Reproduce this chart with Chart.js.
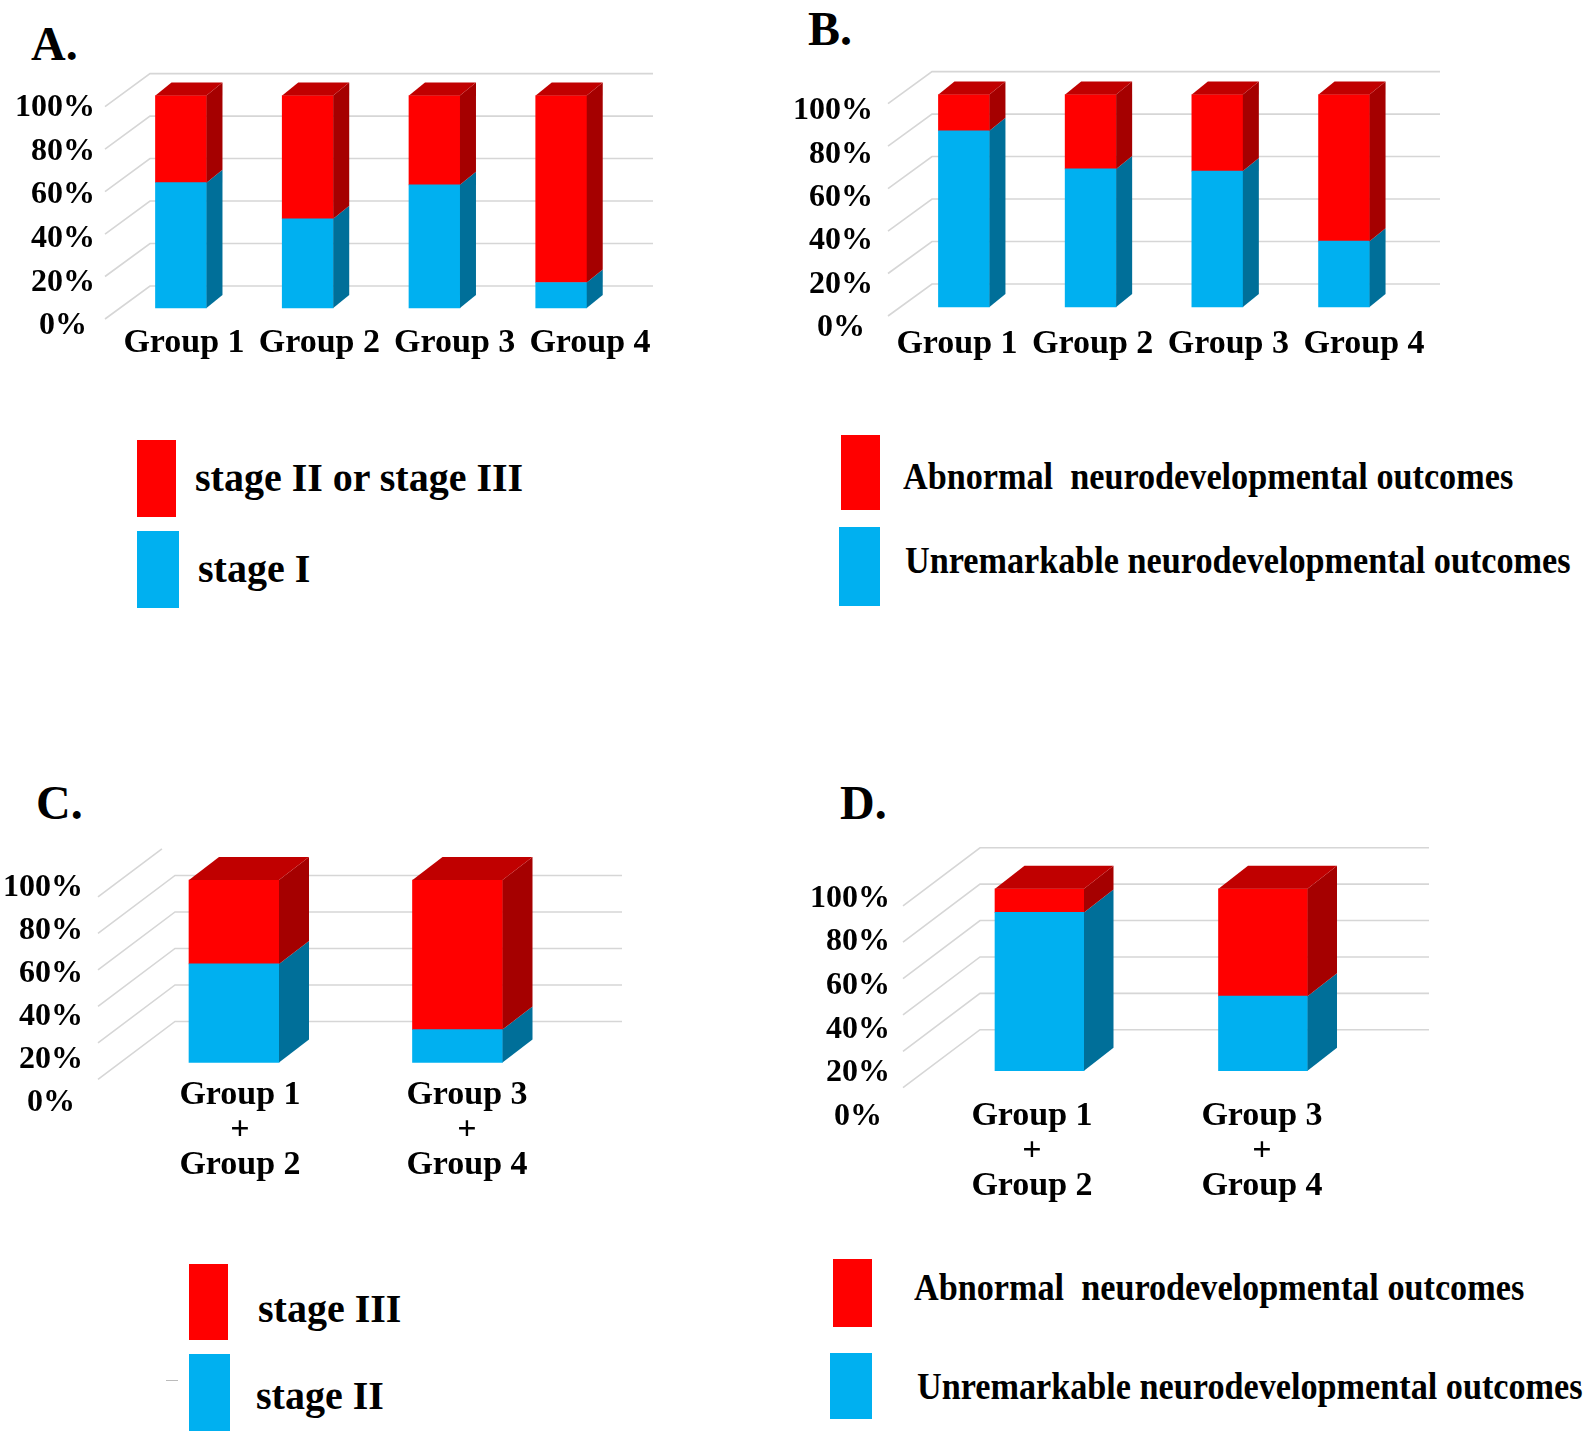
<!DOCTYPE html>
<html>
<head>
<meta charset="utf-8">
<script src="https://cdn.jsdelivr.net/npm/chart.js@4.4.1/dist/chart.umd.min.js"></script>
<style>
	body { margin: 0; background: #fff; width: 1595px; height: 1441px; position: relative; overflow: hidden;
		font-family: 'Liberation Serif', 'Times New Roman', serif; font-weight: bold; color: #000; }
	.abs { position: absolute; }
	.title { font-size: 48px; line-height: 1; }
	.leg { font-size: 40px; line-height: 1; white-space: pre; }
	.legN { font-size: 38px; line-height: 1; white-space: pre; transform: scaleX(0.9); transform-origin: 0 50%; }
	canvas { position: absolute; }
</style>
</head>
<body>

<div class="abs title" style="left:31px; top:20px;">A.</div>
<div class="abs title" style="left:808px; top:5px;">B.</div>
<div class="abs title" style="left:36px; top:779px;">C.</div>
<div class="abs title" style="left:840px; top:779px;">D.</div>

<canvas id="chartA"></canvas>
<canvas id="chartB"></canvas>
<canvas id="chartC"></canvas>
<canvas id="chartD"></canvas>

<!-- legend A -->
<div class="abs" style="left:137px; top:440px; width:39px; height:77px; background:#ff0000;"></div>
<div class="abs" style="left:137px; top:531px; width:42px; height:77px; background:#00b0f0;"></div>
<div class="abs leg" style="left:195px; top:458px;">stage II or stage III</div>
<div class="abs leg" style="left:198px; top:549px;">stage I</div>

<!-- legend B -->
<div class="abs" style="left:841px; top:435px; width:39px; height:75px; background:#ff0000;"></div>
<div class="abs" style="left:839px; top:527px; width:41px; height:79px; background:#00b0f0;"></div>
<div class="abs legN" style="left:903px; top:457px;">Abnormal  neurodevelopmental outcomes</div>
<div class="abs legN" style="left:905px; top:541px;">Unremarkable neurodevelopmental outcomes</div>

<!-- legend C -->
<div class="abs" style="left:189px; top:1264px; width:39px; height:76px; background:#ff0000;"></div>
<div class="abs" style="left:189px; top:1354px; width:41px; height:77px; background:#00b0f0;"></div>
<div class="abs" style="left:166px; top:1380px; width:12px; height:1px; background:#bbb;"></div>
<div class="abs leg" style="left:258px; top:1289px;">stage III</div>
<div class="abs leg" style="left:256px; top:1376px;">stage II</div>

<!-- legend D -->
<div class="abs" style="left:833px; top:1259px; width:39px; height:68px; background:#ff0000;"></div>
<div class="abs" style="left:830px; top:1353px; width:42px; height:66px; background:#00b0f0;"></div>
<div class="abs legN" style="left:914px; top:1268px;">Abnormal  neurodevelopmental outcomes</div>
<div class="abs legN" style="left:917px; top:1367px;">Unremarkable neurodevelopmental outcomes</div>

<script>
	// 데이터 (그림에서 읽은 값, %)
	const groupLabels = ['Group 1', 'Group 2', 'Group 3', 'Group 4'];
	const pooledLabels = [['Group 1', '+', 'Group 2'], ['Group 3', '+', 'Group 4']];
	const tickValues = [0, 20, 40, 60, 80, 100];

	const stageI_A = [59, 42, 58, 12];
	const stageIIorIII_A = [41, 58, 42, 88];

	const unremarkable_B = [83, 65, 64, 31];
	const abnormal_B = [17, 35, 36, 69];

	const stageII_C = [54, 18];
	const stageIII_C = [46, 82];

	const unremarkable_D = [87, 41];
	const abnormal_D = [13, 59];

	// 색상
	const RED = '#ff0000', RED_SIDE = '#a50000', RED_TOP = '#c00000';
	const BLUE = '#00b0f0', BLUE_SIDE = '#006f99', BLUE_TOP = '#0090c8';
	const FONT = "'Liberation Serif', 'Times New Roman', serif";

	// 3D 효과: 벽 격자선 + 막대 옆면/윗면
	const bars3d = {
		id: 'bars3d',
		beforeDatasetsDraw(chart, args, o) {
			const y = chart.scales.y;
			const ctx = chart.ctx;
			const wl = o.wallLeft - o.cx, wr = o.wallRight - o.cx;
			ctx.save();
			ctx.strokeStyle = '#d6d6d6';
			ctx.lineWidth = 1.6;
			tickValues.forEach(v => {
				const yb = y.getPixelForValue(v) + o.backDy;
				const isTop = v === tickValues[tickValues.length - 1];
				ctx.beginPath();
				ctx.moveTo(wl - o.sideDx, yb + o.sideDy);
				if (isTop && o.openTop) {
					ctx.lineTo(wl - o.sideDx * 0.17, yb + o.sideDy * 0.17);
				} else {
					ctx.lineTo(wl, yb);
					ctx.lineTo(wr, yb);
				}
				ctx.stroke();
			});
			ctx.restore();
		},
		afterDatasetsDraw(chart, args, o) {
			const ctx = chart.ctx;
			const sets = chart.data.datasets;
			ctx.save();
			sets.forEach((ds, di) => {
				chart.getDatasetMeta(di).data.forEach(bar => {
					const p = bar.getProps(['x', 'y', 'base', 'width'], true);
					const r = p.x + p.width / 2;
					ctx.fillStyle = ds.sideColor;
					ctx.beginPath();
					ctx.moveTo(r, p.y);
					ctx.lineTo(r + o.dx, p.y - o.dy);
					ctx.lineTo(r + o.dx, p.base - o.dy);
					ctx.lineTo(r, p.base);
					ctx.closePath();
					ctx.fill();
				});
			});
			// 가장 위 구간의 윗면
			chart.data.labels.forEach((lab, i) => {
				let top = -1;
				sets.forEach((ds, di) => { if (ds.data[i] > 0) top = di; });
				if (top < 0) return;
				const p = chart.getDatasetMeta(top).data[i].getProps(['x', 'y', 'width'], true);
				const l = p.x - p.width / 2, r = p.x + p.width / 2;
				ctx.fillStyle = sets[top].topColor;
				ctx.beginPath();
				ctx.moveTo(l, p.y);
				ctx.lineTo(l + o.dx, p.y - o.dy);
				ctx.lineTo(r + o.dx, p.y - o.dy);
				ctx.lineTo(r, p.y);
				ctx.closePath();
				ctx.fill();
			});
			ctx.restore();
		}
	};

	function drawPanel(id, g, labels, lower, upper, lowerName, upperName) {
		const cv = document.getElementById(id);
		cv.width = g.cw;
		cv.height = g.ch;
		cv.style.left = g.cx + 'px';
		cv.style.top = g.cy + 'px';

		const n = labels.length;
		const xLinePx = g.xSize * g.xLH;
		const Ba = g.xl - xLinePx / 2 - 2;   // 차트 영역 아래 = 첫 줄 라벨 바로 위

		// 앞면(막대), 눈금 라벨, 그룹 라벨 각각의 픽셀 위치로 축 범위 계산
		const s1 = (g.p0 - g.p100) / 100;
		const s2 = (g.l0 - g.l100) / 100;
		const s3 = (g.xLast - g.xFirst) / (n - 1);

		new Chart(cv.getContext('2d'), {
			type: 'bar',
			data: {
				labels: labels,
				datasets: [
					{ label: lowerName, data: lower, xAxisID: 'x', yAxisID: 'y', backgroundColor: BLUE, sideColor: BLUE_SIDE, topColor: BLUE_TOP, barThickness: g.barW, borderWidth: 0 },
					{ label: upperName, data: upper, xAxisID: 'x', yAxisID: 'y', backgroundColor: RED, sideColor: RED_SIDE, topColor: RED_TOP, barThickness: g.barW, borderWidth: 0 }
				]
			},
			options: {
				responsive: false,
				animation: false,
				events: [],
				layout: {
					padding: { left: 0, top: g.Ta - g.cy, right: g.cx + g.cw - g.CR, bottom: 0 }
				},
				plugins: {
					legend: { display: false },
					tooltip: { enabled: false },
					bars3d: {
						cx: g.cx, wallLeft: g.wallLeft, wallRight: g.wallRight, backDy: g.backDy,
						sideDx: g.sideDx, sideDy: g.sideDy, openTop: g.openTop, dx: g.dx, dy: g.dy
					}
				},
				scales: {
					x: {
						stacked: true,
						offset: true,
						display: false
					},
					xt: {
						type: 'linear',
						position: 'bottom',
						offset: false,
						bounds: 'data',
						min: -(g.xFirst - g.CL) / s3,
						max: (n - 1) + (g.CR - g.xLast) / s3,
						grid: { display: false, drawTicks: false, offset: false },
						border: { display: false },
						afterBuildTicks: s => { s.ticks = labels.map((l, i) => ({ value: i })); },
						ticks: {
							autoSkip: false, maxRotation: 0, minRotation: 0,
							color: '#000',
							padding: 2,
							font: { family: FONT, size: g.xSize, weight: 'bold', lineHeight: g.xLH },
							callback: v => labels[v]
						},
						afterFit: s => { s.height = g.cy + g.ch - Ba; }
					},
					y: {
						stacked: true,
						display: false,
						bounds: 'data',
						min: -(Ba - g.p0) / s1,
						max: 100 + (g.p100 - g.Ta) / s1
					},
					yt: {
						type: 'linear',
						position: 'left',
						bounds: 'data',
						min: -(Ba - g.l0) / s2,
						max: 100 + (g.l100 - g.Ta) / s2,
						grid: { display: false, drawTicks: false },
						border: { display: false },
						afterBuildTicks: s => { s.ticks = tickValues.map(v => ({ value: v })); },
						ticks: {
							color: '#000',
							padding: g.CL - g.labelRight,
							font: { family: FONT, size: 32, weight: 'bold' },
							callback: v => v === 0 ? v + '% ' : v + '%'
						},
						afterFit: s => { s.width = g.CL - g.cx; }
					}
				}
			},
			plugins: [bars3d]
		});
	}

	// 패널 배치 (페이지 좌표)
	const geomA = { cx: 0, cy: 15, cw: 700, ch: 365, CL: 117.6, CR: 624.6, Ta: 65,
		p0: 308, p100: 95.6, l0: 326, l100: 108, labelRight: 95,
		xl: 343, xSize: 34, xLH: 1.2, xFirst: 184, xLast: 590,
		wallLeft: 150, wallRight: 653, backDy: -22, sideDx: 45, sideDy: 33, openTop: false,
		barW: 51, dx: 16, dy: 13 };
	const geomB = { cx: 780, cy: 15, cw: 700, ch: 365, CL: 900.6, CR: 1407.4, Ta: 65,
		p0: 307, p100: 94.6, l0: 328, l100: 111, labelRight: 873,
		xl: 344, xSize: 34, xLH: 1.2, xFirst: 957, xLast: 1364,
		wallLeft: 932, wallRight: 1440, backDy: -23, sideDx: 44, sideDy: 32, openTop: false,
		barW: 51, dx: 16, dy: 13 };
	const geomC = { cx: 0, cy: 780, cw: 700, ch: 420, CL: 122.25, CR: 569.25, Ta: 830,
		p0: 1062, p100: 873, l0: 1104, l100: 881, labelRight: 83,
		xl: 1095, xSize: 34, xLH: 35 / 34, xFirst: 240, xLast: 467,
		wallLeft: 175, wallRight: 622, backDy: -41, sideDx: 77, sideDy: 58, openTop: true,
		barW: 90, dx: 30, dy: 23 };
	const geomD = { cx: 780, cy: 790, cw: 700, ch: 420, CL: 927.75, CR: 1374.75, Ta: 840,
		p0: 1070, p100: 883, l0: 1117, l100: 893, labelRight: 890,
		xl: 1116, xSize: 34, xLH: 35 / 34, xFirst: 1032, xLast: 1262,
		wallLeft: 980, wallRight: 1429, backDy: -41, sideDx: 77, sideDy: 58, openTop: false,
		barW: 89, dx: 29.5, dy: 23 };

	drawPanel('chartA', geomA, groupLabels, stageI_A, stageIIorIII_A, 'stage I', 'stage II or stage III');
	drawPanel('chartB', geomB, groupLabels, unremarkable_B, abnormal_B, 'Unremarkable neurodevelopmental outcomes', 'Abnormal neurodevelopmental outcomes');
	drawPanel('chartC', geomC, pooledLabels, stageII_C, stageIII_C, 'stage II', 'stage III');
	drawPanel('chartD', geomD, pooledLabels, unremarkable_D, abnormal_D, 'Unremarkable neurodevelopmental outcomes', 'Abnormal neurodevelopmental outcomes');
</script>
</body>
</html>
